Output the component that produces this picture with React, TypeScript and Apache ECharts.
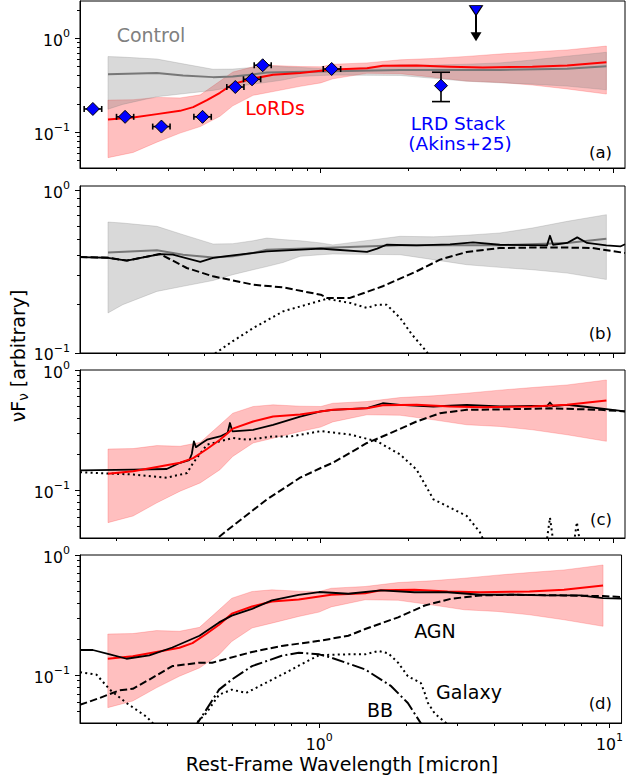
import React, { useEffect, useRef } from "react";
import * as echarts from "echarts";

const FONT = "DejaVu Sans";

// ---------- shared axes ----------
const X_MIN = 0.15;
const X_MAX = 11;
const xMajorTicks = [1, 10];
const xMinorTicks = [0.2, 0.3, 0.4, 0.5, 0.6, 0.7, 0.8, 0.9, 2, 3, 4, 5, 6, 7, 8, 9];
const panelYMin = [0.0417, 0.0998, 0.04, 0.04];
const panelYMax = [2.49, 1.065, 1.0001, 1.0001];
const yMajorTicks = [0.1, 1];
const yMinorTicks = [0.05, 0.06, 0.07, 0.08, 0.09, 0.2, 0.3, 0.4, 0.5, 0.6, 0.7, 0.8, 0.9, 2];
const panelTags = ["(a)", "(b)", "(c)", "(d)"];

// ---------- Control sample (gray) ----------
const controlWave = [0.187, 0.21, 0.275, 0.338, 0.428, 0.5, 0.587, 0.654, 0.743, 0.85, 1.0, 1.1, 1.87, 2.43, 3.16, 4.1, 5.3, 6.97, 9.5];
const controlHi = [0.639, 0.63, 0.601, 0.534, 0.468, 0.47, 0.49, 0.509, 0.498, 0.49, 0.475, 0.462, 0.522, 0.518, 0.53, 0.547, 0.587, 0.645, 0.709];
const controlLo = [0.176, 0.198, 0.239, 0.257, 0.279, 0.303, 0.325, 0.34, 0.36, 0.393, 0.402, 0.406, 0.402, 0.375, 0.349, 0.336, 0.325, 0.31, 0.283];
const controlMedWave = [0.187, 0.275, 0.338, 0.428, 0.5, 0.587, 0.654, 1.0, 1.87, 4.1, 6.97, 9.5];
const controlMed = [0.415, 0.428, 0.402, 0.386, 0.393, 0.412, 0.432, 0.442, 0.459, 0.46, 0.475, 0.505];

// ---------- LoRDs (red) ----------
const lordsWave = [0.187, 0.228, 0.275, 0.33, 0.387, 0.452, 0.5, 0.587, 0.687, 0.85, 1.0, 1.1, 1.44, 1.87, 2.43, 3.16, 4.1, 5.3, 6.97, 9.5];
const lordsHi = [0.22, 0.222, 0.235, 0.232, 0.25, 0.35, 0.437, 0.497, 0.513, 0.5, 0.497, 0.529, 0.547, 0.59, 0.61, 0.641, 0.68, 0.715, 0.751, 0.826];
const lordsLo = [0.0537, 0.061, 0.0785, 0.098, 0.115, 0.148, 0.191, 0.247, 0.271, 0.308, 0.335, 0.37, 0.424, 0.42, 0.385, 0.35, 0.339, 0.318, 0.289, 0.255];
const lordsMedWave = [0.187, 0.228, 0.275, 0.33, 0.366, 0.408, 0.452, 0.5, 0.587, 0.687, 0.85, 1.0, 1.1, 1.44, 1.63, 2.13, 2.77, 3.59, 5.3, 6.97, 9.5];
const lordsMed = [0.137, 0.144, 0.156, 0.169, 0.185, 0.22, 0.263, 0.325, 0.373, 0.41, 0.427, 0.452, 0.466, 0.481, 0.51, 0.513, 0.497, 0.49, 0.497, 0.513, 0.557];

// ---------- LRD stack (Akins+25) ----------
const stackWave = [0.166, 0.214, 0.285, 0.394, 0.51, 0.582, 0.633, 1.09, 2.58];
const stackFlux = [0.177, 0.146, 0.115, 0.146, 0.303, 0.366, 0.516, 0.471, 0.313];
const stackWaveLo = [0.155, 0.2, 0.266, 0.368, 0.477, 0.544, 0.592, 1.02, 2.58];
const stackWaveHi = [0.178, 0.229, 0.305, 0.422, 0.546, 0.623, 0.677, 1.17, 2.58];
const stackFluxLo = [0.177, 0.146, 0.115, 0.146, 0.303, 0.366, 0.516, 0.471, 0.212];
const stackFluxHi = [0.177, 0.146, 0.115, 0.146, 0.303, 0.366, 0.516, 0.471, 0.435];
const limitWave = [3.4];
const limitFlux = [1.97];
const limitArrowEnd = [0.93];

// ---------- panel (b) model ----------
const bTotalWave = [0.15, 0.187, 0.217, 0.282, 0.312, 0.387, 0.428, 0.5, 0.654, 1.0, 1.1, 1.44, 1.56, 1.68, 2.13, 2.77, 3.32, 4.1, 5.95, 6.09, 6.24, 6.97, 7.55, 8.16, 9.5, 10.6, 11];
const bTotal = [0.389, 0.385, 0.37, 0.406, 0.402, 0.363, 0.384, 0.398, 0.422, 0.438, 0.433, 0.418, 0.438, 0.463, 0.459, 0.466, 0.479, 0.463, 0.459, 0.526, 0.463, 0.475, 0.514, 0.475, 0.459, 0.452, 0.466];
const bAgnWave = [0.15, 0.187, 0.217, 0.282, 0.348, 0.428, 0.587, 0.743, 1.0, 1.05, 1.26, 1.63, 2.13, 2.56, 3.16, 4.1, 5.3, 6.97, 8.5, 11];
const bAgn = [0.389, 0.385, 0.37, 0.406, 0.333, 0.296, 0.263, 0.253, 0.228, 0.218, 0.218, 0.257, 0.318, 0.375, 0.418, 0.442, 0.445, 0.445, 0.442, 0.412];
const bGalWave = [0.42, 0.5, 0.587, 0.743, 1.0, 1.05, 1.26, 1.44, 1.56, 1.68, 1.87, 2.05, 2.27, 2.4];
const bGal = [0.095, 0.118, 0.142, 0.18, 0.21, 0.215, 0.203, 0.189, 0.198, 0.198, 0.164, 0.13, 0.105, 0.092];

// ---------- panel (c) model ----------
const cTotalWave = [0.15, 0.228, 0.297, 0.33, 0.355, 0.362, 0.368, 0.374, 0.39, 0.408, 0.452, 0.48, 0.489, 0.497, 0.5, 0.587, 0.687, 0.85, 1.0, 1.1, 1.44, 1.63, 1.87, 2.43, 3.16, 4.1, 5.3, 5.95, 6.09, 6.24, 6.97, 7.9, 9.5, 11];
const cTotal = [0.146, 0.148, 0.15, 0.169, 0.178, 0.2, 0.255, 0.228, 0.245, 0.263, 0.28, 0.3, 0.362, 0.315, 0.308, 0.318, 0.35, 0.41, 0.452, 0.466, 0.481, 0.529, 0.513, 0.497, 0.513, 0.497, 0.503, 0.5, 0.536, 0.5, 0.513, 0.497, 0.472, 0.452];
const cAgnWave = [0.42, 0.5, 0.654, 0.85, 1.0, 1.1, 1.44, 1.68, 2.13, 2.56, 3.16, 4.1, 6.09, 9.1, 11];
const cAgn = [0.036, 0.0504, 0.0838, 0.127, 0.153, 0.169, 0.247, 0.289, 0.373, 0.437, 0.466, 0.47, 0.48, 0.466, 0.452];
const cGalWave = [0.15, 0.228, 0.297, 0.349, 0.366, 0.408, 0.5, 0.56, 0.687, 0.79, 1.0, 1.26, 1.56, 1.87, 2.13, 2.43, 3.16, 3.5, 3.65, 5.92, 6.09, 6.26, 7.35, 7.53, 7.72];
const cGal = [0.141, 0.135, 0.127, 0.139, 0.169, 0.239, 0.272, 0.263, 0.28, 0.28, 0.31, 0.29, 0.255, 0.198, 0.148, 0.084, 0.061, 0.045, 0.036, 0.036, 0.059, 0.036, 0.036, 0.054, 0.036];

// ---------- panel (d) model ----------
const dTotalWave = [0.15, 0.166, 0.19, 0.217, 0.26, 0.312, 0.387, 0.452, 0.5, 0.587, 0.687, 0.85, 1.0, 1.26, 1.63, 2.13, 2.77, 3.59, 4.7, 6.09, 7.9, 9.5, 11];
const dTotal = [0.162, 0.162, 0.149, 0.137, 0.146, 0.17, 0.213, 0.275, 0.313, 0.356, 0.419, 0.465, 0.492, 0.476, 0.508, 0.49, 0.49, 0.467, 0.467, 0.461, 0.461, 0.438, 0.433];
const dAgnWave = [0.15, 0.175, 0.205, 0.228, 0.26, 0.312, 0.387, 0.428, 0.587, 0.743, 1.0, 1.26, 1.44, 1.87, 2.31, 2.84, 3.59, 4.7, 6.97, 9.5, 11];
const dAgn = [0.0567, 0.0645, 0.0748, 0.077, 0.092, 0.119, 0.127, 0.127, 0.156, 0.175, 0.193, 0.213, 0.242, 0.303, 0.38, 0.432, 0.461, 0.467, 0.461, 0.455, 0.447];
const dGalWave = [0.15, 0.171, 0.19, 0.217, 0.254, 0.275, 0.35, 0.366, 0.408, 0.452, 0.5, 0.56, 0.654, 0.785, 0.85, 1.0, 1.26, 1.44, 1.6, 1.73, 1.87, 2.02, 2.24, 2.31, 2.37, 2.5, 2.84];
const dGal = [0.106, 0.101, 0.0758, 0.0586, 0.0452, 0.037, 0.03, 0.037, 0.0482, 0.0688, 0.0758, 0.0711, 0.0862, 0.108, 0.12, 0.147, 0.149, 0.149, 0.159, 0.152, 0.127, 0.098, 0.086, 0.071, 0.0586, 0.048, 0.037];
const dBBWave = [0.37, 0.408, 0.452, 0.5, 0.587, 0.743, 0.85, 1.0, 1.1, 1.44, 1.77, 2.02, 2.3];
const dBB = [0.036, 0.0514, 0.0758, 0.092, 0.119, 0.145, 0.154, 0.149, 0.14, 0.1116, 0.081, 0.0586, 0.036];

// ---------- layout ----------
const GRID_LEFT = 80;
const GRID_WIDTH = 545;
const panelTop = [1, 186, 370, 555];
const panelHeight = [167, 167, 168, 168];

const pairs = (xs: number[], ys: number[]) => xs.map((x, i) => [x, ys[i]]);

const powLabel = (v: number) => {
  const e = Math.round(Math.log10(v));
  return `{b|10}{s|${e < 0 ? "\u2212" + -e : e}}`;
};
const tickRich = {
  b: { fontFamily: FONT, fontSize: 15.7, color: "#000", lineHeight: 20, verticalAlign: "bottom" },
  s: { fontFamily: FONT, fontSize: 11, color: "#000", lineHeight: 11, verticalAlign: "top" },
};

const BLACK_DASH = [7.4, 3.2];
const BLACK_DOT = [2, 3.3];
const DASH_DOT = [12.8, 3.2, 2, 3.2];

function lineSeries(panel: number, xs: number[], ys: number[], color: string, width: number, type: any, z = 3) {
  return {
    type: "line",
    xAxisIndex: panel * 2,
    yAxisIndex: panel * 2,
    data: pairs(xs, ys),
    showSymbol: false,
    symbol: "none",
    silent: true,
    clip: true,
    z,
    lineStyle: { color, width, type, cap: "butt", join: "round" },
  };
}

function bandSeries(panel: number, xs: number[], lo: number[], hi: number[], fill: string, stroke: string, z = 1) {
  return {
    type: "custom",
    xAxisIndex: panel * 2,
    yAxisIndex: panel * 2,
    data: [[xs[0], lo[0]]],
    encode: { x: 0, y: 1 },
    silent: true,
    z,
    renderItem: (_p: any, api: any) => {
      const pts: number[][] = [];
      for (let i = 0; i < xs.length; i++) pts.push(api.coord([xs[i], hi[i]]));
      for (let i = xs.length - 1; i >= 0; i--) pts.push(api.coord([xs[i], lo[i]]));
      return { type: "polygon", shape: { points: pts }, style: { fill, stroke, lineWidth: 1 } };
    },
  };
}

function buildOption() {
  const grids = panelTop.map((t, i) => ({
    left: GRID_LEFT,
    width: GRID_WIDTH,
    top: t,
    height: panelHeight[i],
    show: true,
    borderColor: "#000",
    borderWidth: 1,
    backgroundColor: "transparent",
    containLabel: false,
  }));

  const xAxes: any[] = [];
  const yAxes: any[] = [];
  panelTop.forEach((_t, i) => {
    const ymin = panelYMin[i];
    const ymax = panelYMax[i];
    const yMaj = yMajorTicks.filter((v) => v >= ymin && v <= ymax);
    const yMin = yMinorTicks.filter((v) => v >= ymin && v <= ymax);
    xAxes.push({
      gridIndex: i,
      type: "log",
      logBase: 10,
      min: X_MIN,
      max: X_MAX,
      position: "bottom",
      axisLine: { show: true, lineStyle: { color: "#000", width: 1 } },
      axisTick: { show: true, length: 5, customValues: xMajorTicks, lineStyle: { color: "#000", width: 1 } },
      axisLabel: { show: i === 3, customValues: xMajorTicks, formatter: powLabel, rich: tickRich, margin: 9 },
      splitLine: { show: false },
      minorTick: { show: false },
    });
    xAxes.push({
      gridIndex: i,
      type: "log",
      logBase: 10,
      min: X_MIN,
      max: X_MAX,
      position: "bottom",
      axisLine: { show: false },
      axisTick: { show: true, length: 3, customValues: xMinorTicks, lineStyle: { color: "#000", width: 1 } },
      axisLabel: { show: false },
      splitLine: { show: false },
    });
    yAxes.push({
      gridIndex: i,
      type: "log",
      logBase: 10,
      min: ymin,
      max: ymax,
      position: "left",
      axisLine: { show: true, lineStyle: { color: "#000", width: 1 } },
      axisTick: { show: true, length: 5, customValues: yMaj, lineStyle: { color: "#000", width: 1 } },
      axisLabel: { show: true, customValues: yMaj, formatter: powLabel, rich: tickRich, margin: 10 },
      splitLine: { show: false },
      minorTick: { show: false },
    });
    yAxes.push({
      gridIndex: i,
      type: "log",
      logBase: 10,
      min: ymin,
      max: ymax,
      position: "left",
      axisLine: { show: false },
      axisTick: { show: true, length: 3, customValues: yMin, lineStyle: { color: "#000", width: 1 } },
      axisLabel: { show: false },
      splitLine: { show: false },
    });
  });

  const RED_FILL = "rgba(255,0,0,0.25)";
  const RED_EDGE = "rgba(255,0,0,0.18)";
  const GRAY_FILL = "rgba(128,128,128,0.3)";
  const GRAY_EDGE = "rgba(128,128,128,0.25)";
  const GRAY_LINE = "#777777";

  const series: any[] = [
    // panel (a)
    bandSeries(0, lordsWave, lordsLo, lordsHi, RED_FILL, RED_EDGE, 1),
    bandSeries(0, controlWave, controlLo, controlHi, GRAY_FILL, GRAY_EDGE, 1),
    lineSeries(0, controlMedWave, controlMed, GRAY_LINE, 2, "solid", 2),
    lineSeries(0, lordsMedWave, lordsMed, "#ff0000", 2, "solid", 3),
    {
      type: "custom",
      xAxisIndex: 0,
      yAxisIndex: 0,
      silent: true,
      z: 4,
      data: stackWave.map((x, i) => [x, stackFlux[i], stackWaveLo[i], stackWaveHi[i], stackFluxLo[i], stackFluxHi[i]]),
      encode: { x: 0, y: 1 },
      renderItem: (_p: any, api: any) => {
        const x = api.value(0), y = api.value(1);
        const xl = api.value(2), xh = api.value(3), yl = api.value(4), yh = api.value(5);
        const st = { stroke: "#000", lineWidth: 1.6 };
        const kids: any[] = [];
        if (xh > xl) {
          const l = api.coord([xl, y]);
          const h = api.coord([xh, y]);
          kids.push({ type: "line", shape: { x1: l[0], y1: l[1], x2: h[0], y2: h[1] }, style: st });
          kids.push({ type: "line", shape: { x1: l[0], y1: l[1] - 3, x2: l[0], y2: l[1] + 3 }, style: st });
          kids.push({ type: "line", shape: { x1: h[0], y1: h[1] - 3, x2: h[0], y2: h[1] + 3 }, style: st });
        }
        if (yh > yl) {
          const b = api.coord([x, yl]);
          const t = api.coord([x, yh]);
          kids.push({ type: "line", shape: { x1: b[0], y1: b[1], x2: t[0], y2: t[1] }, style: st });
          kids.push({ type: "line", shape: { x1: b[0] - 9, y1: b[1], x2: b[0] + 9, y2: b[1] }, style: st });
          kids.push({ type: "line", shape: { x1: t[0] - 9, y1: t[1], x2: t[0] + 9, y2: t[1] }, style: st });
        }
        return { type: "group", children: kids };
      },
    },
    {
      type: "custom",
      xAxisIndex: 0,
      yAxisIndex: 0,
      silent: true,
      z: 4,
      data: limitWave.map((x, i) => [x, limitFlux[i], limitArrowEnd[i]]),
      encode: { x: 0, y: 1 },
      renderItem: (_p: any, api: any) => {
        const top = api.coord([api.value(0), api.value(1)]);
        const bot = api.coord([api.value(0), api.value(2)]);
        return {
          type: "group",
          children: [
            { type: "line", shape: { x1: top[0], y1: top[1], x2: bot[0], y2: bot[1] - 7 }, style: { stroke: "#000", lineWidth: 2 } },
            {
              type: "polygon",
              shape: { points: [[bot[0] - 5.5, bot[1] - 9], [bot[0] + 5.5, bot[1] - 9], [bot[0], bot[1]]] },
              style: { fill: "#000" },
            },
          ],
        };
      },
    },
    {
      type: "scatter",
      xAxisIndex: 0,
      yAxisIndex: 0,
      silent: true,
      z: 5,
      data: pairs(stackWave, stackFlux),
      symbol: "diamond",
      symbolSize: 13,
      itemStyle: { color: "#0000ff", borderColor: "#000", borderWidth: 1, opacity: 1 },
    },
    {
      type: "scatter",
      xAxisIndex: 0,
      yAxisIndex: 0,
      silent: true,
      z: 5,
      data: pairs(limitWave, limitFlux),
      symbol: "triangle",
      symbolRotate: 180,
      symbolSize: [13, 10],
      itemStyle: { color: "#0000ff", borderColor: "#000", borderWidth: 1, opacity: 1 },
    },

    // panel (b)
    bandSeries(1, controlWave, controlLo, controlHi, GRAY_FILL, GRAY_EDGE, 1),
    lineSeries(1, controlMedWave, controlMed, GRAY_LINE, 2, "solid", 2),
    lineSeries(1, bGalWave, bGal, "#000", 2, BLACK_DOT, 3),
    lineSeries(1, bAgnWave, bAgn, "#000", 2, BLACK_DASH, 3),
    lineSeries(1, bTotalWave, bTotal, "#000", 1.8, "solid", 3),

    // panel (c)
    bandSeries(2, lordsWave, lordsLo, lordsHi, RED_FILL, RED_EDGE, 1),
    lineSeries(2, cGalWave, cGal, "#000", 2, BLACK_DOT, 3),
    lineSeries(2, cAgnWave, cAgn, "#000", 2, BLACK_DASH, 3),
    lineSeries(2, cTotalWave, cTotal, "#000", 1.8, "solid", 3),
    lineSeries(2, lordsMedWave, lordsMed, "#ff0000", 2, "solid", 4),

    // panel (d)
    bandSeries(3, lordsWave, lordsLo, lordsHi, RED_FILL, RED_EDGE, 1),
    lineSeries(3, dGalWave, dGal, "#000", 2, BLACK_DOT, 3),
    lineSeries(3, dBBWave, dBB, "#000", 2, DASH_DOT, 3),
    lineSeries(3, dAgnWave, dAgn, "#000", 2, BLACK_DASH, 3),
    lineSeries(3, lordsMedWave, lordsMed, "#ff0000", 2, "solid", 4),
    lineSeries(3, dTotalWave, dTotal, "#000", 1.8, "solid", 4),
  ];

  const txt = (x: number, y: number, text: string, fill: string, size: number, align = "center", lh = 20) => ({
    type: "text",
    x,
    y,
    silent: true,
    z: 10,
    style: {
      text,
      fill,
      fontSize: size,
      fontFamily: FONT,
      align,
      verticalAlign: "middle",
      textAlign: align,
      textVerticalAlign: "middle",
      lineHeight: lh,
    },
  });

  const tagY = [152, 333.5, 519, 703.5];
  const graphic: any[] = [
    txt(151, 34.5, "Control", "#808080", 19),
    txt(275, 107.5, "LoRDs", "#ff0000", 19),
    txt(458, 123, "LRD Stack", "#0000ff", 18.5, "center", 18.5),
    txt(460, 143, "(Akins+25)", "#0000ff", 18.5, "center", 18.5),
    txt(435, 630.5, "AGN", "#000", 19),
    txt(469, 692, "Galaxy", "#000", 19),
    txt(380, 709.5, "BB", "#000", 19),
    txt(342, 764, "Rest-Frame Wavelength [micron]", "#000", 19),
    ...panelTags.map((t, i) => txt(612, tagY[i], t, "#000", 16.5, "right")),
    {
      type: "text",
      x: 19,
      y: 356,
      rotation: Math.PI / 2,
      silent: true,
      z: 10,
      style: {
        text: "{a|\u03bdF}{s|\u03bd}{a| [arbitrary]}",
        align: "center",
        verticalAlign: "middle",
        textAlign: "center",
        textVerticalAlign: "middle",
        rich: {
          a: { fontSize: 19, fontFamily: FONT, fill: "#000", color: "#000", lineHeight: 22, verticalAlign: "top" },
          s: { fontSize: 13.5, fontFamily: FONT, fill: "#000", color: "#000", lineHeight: 14, verticalAlign: "bottom" },
        },
      },
    },
  ];

  return {
    animation: false,
    backgroundColor: "#ffffff",
    grid: grids,
    xAxis: xAxes,
    yAxis: yAxes,
    series,
    graphic,
  };
}

export default function App() {
  const ref = useRef<HTMLDivElement>(null);
  useEffect(() => {
    if (!ref.current) return;
    const chart = echarts.init(ref.current, null, { renderer: "svg", width: 626, height: 782 });
    chart.setOption(buildOption() as any);
    return () => chart.dispose();
  }, []);
  return <div ref={ref} style={{ position: "fixed", left: 0, top: 0, width: 626, height: 782 }} />;
}
